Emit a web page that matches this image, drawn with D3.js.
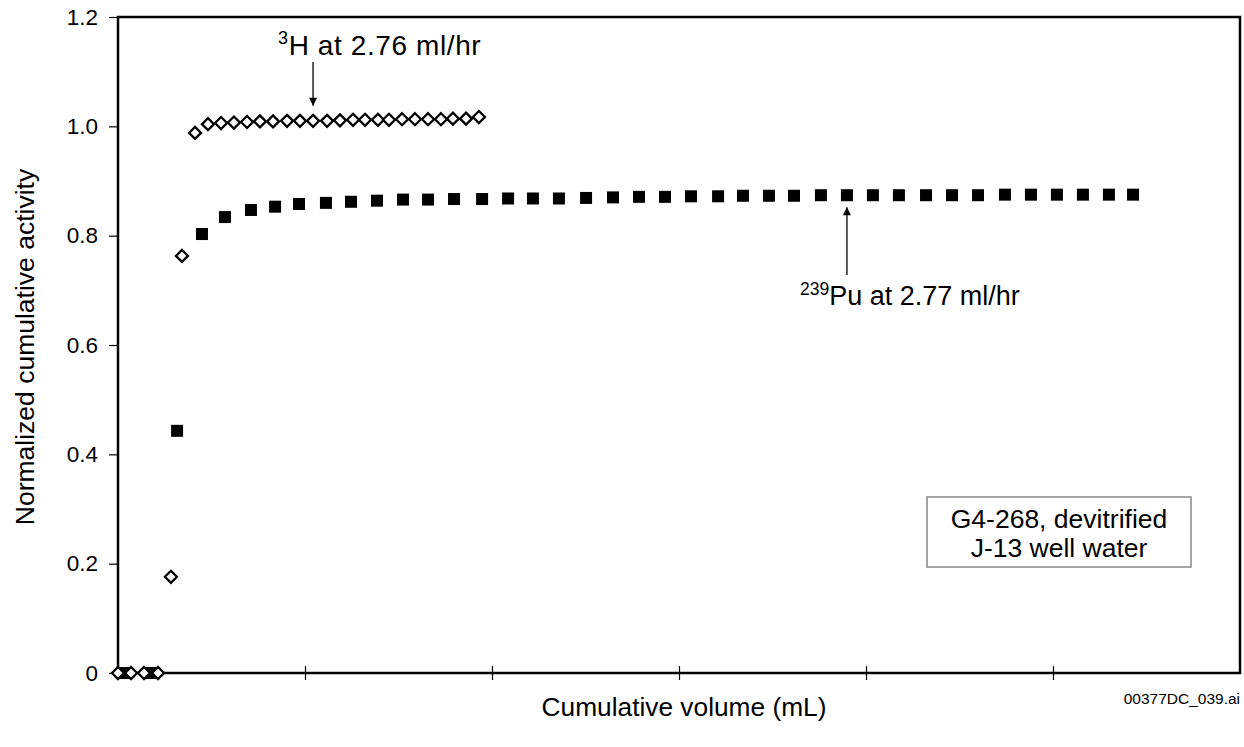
<!DOCTYPE html>
<html>
<head>
<meta charset="utf-8">
<script src="https://cdn.jsdelivr.net/npm/d3@7"></script>
<style>
  html, body { margin: 0; padding: 0; background: #fff; }
  svg { display: block; font-family: "Liberation Sans", Arial, sans-serif; }
</style>
</head>
<body>
<svg id="chart" width="1244" height="747"></svg>
<script>
// ---- Data ----
const h3Volume = [0, 7.0, 13.9, 21.4, 28.3, 34.2, 41.2, 48.1, 55.1, 62.0, 69.0, 75.9, 82.9, 90.4, 97.3,
  104.3, 111.8, 118.7, 125.7, 132.1, 139.0, 144.9, 151.9, 158.8, 165.8, 172.7, 179.1, 186.1, 193.0];
const h3Activity = [0, 0, 0, 0, 0.176, 0.763, 0.988, 1.004, 1.006, 1.007, 1.008, 1.009, 1.009, 1.010, 1.010,
  1.010, 1.010, 1.011, 1.012, 1.012, 1.012, 1.012, 1.013, 1.013, 1.013, 1.013, 1.014, 1.014, 1.017];

const puVolume = [3.7, 17.1, 31.6, 44.9, 57.2, 71.1, 84.0, 96.8, 111.2, 124.6, 138.5, 152.4, 165.8, 179.7,
  194.7, 208.6, 221.9, 235.8, 250.3, 264.7, 278.6, 292.5, 306.4, 320.9, 334.2, 348.1, 361.5, 375.9, 389.8,
  403.7, 417.6, 432.1, 446.0, 459.9, 474.3, 488.2, 502.1, 516.0, 529.9, 542.8];
const puActivity = [0, 0, 0.443, 0.803, 0.834, 0.847, 0.853, 0.858, 0.860, 0.862, 0.864, 0.866, 0.866, 0.867,
  0.867, 0.868, 0.868, 0.868, 0.869, 0.870, 0.871, 0.871, 0.872, 0.872, 0.873, 0.873, 0.873, 0.874, 0.874,
  0.874, 0.874, 0.874, 0.874, 0.874, 0.875, 0.875, 0.875, 0.875, 0.875, 0.875];

const yTicks = [0, 0.2, 0.4, 0.6, 0.8, 1.0, 1.2];
const yTickLabels = ["0", "0.2", "0.4", "0.6", "0.8", "1.0", "1.2"];
const xTicks = [100, 200, 300, 400, 500];

const h3Label = { sup: "3", main: "H at 2.76 ml/hr", pointIndex: 15 };
const puLabel = { sup: "239", main: "Pu at 2.77 ml/hr", pointIndex: 28 };
const boxLines = ["G4-268, devitrified", "J-13 well water"];
const xTitle = "Cumulative volume (mL)";
const yTitle = "Normalized cumulative activity";
const fileTag = "00377DC_039.ai";

// ---- Layout ----
const svg = d3.select("#chart");
const mLeft = 118, mRight = 1240, mTop = 17, mBottom = 673;

const x = d3.scaleLinear().domain([0, 600]).range([mLeft, mRight]);
const y = d3.scaleLinear().domain([0, 1.2]).range([mBottom, mTop]);

// Frame
svg.append("rect")
  .attr("x", mLeft).attr("y", mTop)
  .attr("width", mRight - mLeft).attr("height", mBottom - mTop)
  .attr("fill", "none").attr("stroke", "#000").attr("stroke-width", 2.5);

// Y axis ticks
const yAxis = d3.axisLeft(y).tickValues(yTicks)
  .tickFormat((d, i) => yTickLabels[i]).tickSize(9).tickPadding(11);
const gy = svg.append("g").attr("transform", `translate(${mLeft},0)`).call(yAxis);
gy.select(".domain").remove();
gy.selectAll(".tick line").attr("stroke", "#000").attr("stroke-width", 1.2);
gy.selectAll(".tick text").attr("font-size", 22.5).attr("fill", "#000")
  .attr("font-family", "Liberation Sans, Arial, sans-serif");

// X axis ticks (crossing)
const xAxis = d3.axisBottom(x).tickValues(xTicks).tickSize(7).tickFormat("");
const gx = svg.append("g").attr("transform", `translate(0,${mBottom})`).call(xAxis);
gx.select(".domain").remove();
gx.selectAll(".tick line").attr("y1", -7).attr("stroke", "#000").attr("stroke-width", 1.2);

// Pu squares
const sq = 12;
svg.append("g").selectAll("rect")
  .data(d3.zip(puVolume, puActivity))
  .join("rect")
  .attr("x", d => x(d[0]) - sq / 2)
  .attr("y", d => y(d[1]) - sq / 2)
  .attr("width", sq).attr("height", sq)
  .attr("fill", "#000");

// H diamonds
const dr = 6;
svg.append("g").selectAll("path")
  .data(d3.zip(h3Volume, h3Activity))
  .join("path")
  .attr("d", `M0,${-dr}L${dr},0L0,${dr}L${-dr},0Z`)
  .attr("transform", d => `translate(${x(d[0])},${y(d[1])})`)
  .attr("fill", "#fff").attr("stroke", "#000").attr("stroke-width", 2.3);

// Arrow marker
const defs = svg.append("defs");
defs.append("marker").attr("id", "arrow")
  .attr("viewBox", "0 0 10 10").attr("refX", 10).attr("refY", 5)
  .attr("markerWidth", 15).attr("markerHeight", 8).attr("markerUnits", "userSpaceOnUse")
  .attr("orient", "auto")
  .append("path").attr("d", "M0,0L10,5L0,10Z").attr("fill", "#000");

// 3H annotation
const hx = x(h3Volume[h3Label.pointIndex]);
const hy = y(h3Activity[h3Label.pointIndex]);
svg.append("line").attr("x1", hx).attr("x2", hx).attr("y1", 62).attr("y2", hy - 15)
  .attr("stroke", "#000").attr("stroke-width", 1.3).attr("marker-end", "url(#arrow)");
const ht = svg.append("text").attr("x", hx - 35).attr("y", 55)
  .attr("font-size", 28).attr("letter-spacing", 0.6).attr("fill", "#000");
ht.append("tspan").attr("font-size", 18).attr("dy", -11).text(h3Label.sup);
ht.append("tspan").attr("dy", 11).text(h3Label.main);

// 239Pu annotation
const px = x(puVolume[puLabel.pointIndex]);
const py = y(puActivity[puLabel.pointIndex]);
svg.append("line").attr("x1", px).attr("x2", px).attr("y1", 275).attr("y2", py + 12)
  .attr("stroke", "#000").attr("stroke-width", 1.3).attr("marker-end", "url(#arrow)");
const pt = svg.append("text").attr("x", px - 47).attr("y", 305)
  .attr("font-size", 27).attr("fill", "#000");
pt.append("tspan").attr("font-size", 17.5).attr("dy", -10).text(puLabel.sup);
pt.append("tspan").attr("dy", 10).text(puLabel.main);

// Legend-like box
svg.append("rect").attr("x", 927).attr("y", 497).attr("width", 264).attr("height", 70)
  .attr("fill", "#fff").attr("stroke", "#888").attr("stroke-width", 1.5);
svg.append("g").selectAll("text").data(boxLines).join("text")
  .attr("x", 1059).attr("y", (d, i) => 528 + i * 29)
  .attr("text-anchor", "middle").attr("font-size", 26.5).attr("fill", "#000")
  .text(d => d);

// Axis titles
svg.append("text").attr("x", 684).attr("y", 716)
  .attr("text-anchor", "middle").attr("font-size", 26.3).attr("fill", "#000").text(xTitle);
svg.append("text").attr("transform", `translate(34,${(mTop + mBottom) / 2 + 2}) rotate(-90)`)
  .attr("text-anchor", "middle").attr("font-size", 26.5).attr("fill", "#000").text(yTitle);

// File tag
svg.append("text").attr("x", 1240).attr("y", 704).attr("text-anchor", "end")
  .attr("font-size", 15.5).attr("fill", "#000").text(fileTag);
</script>
</body>
</html>
